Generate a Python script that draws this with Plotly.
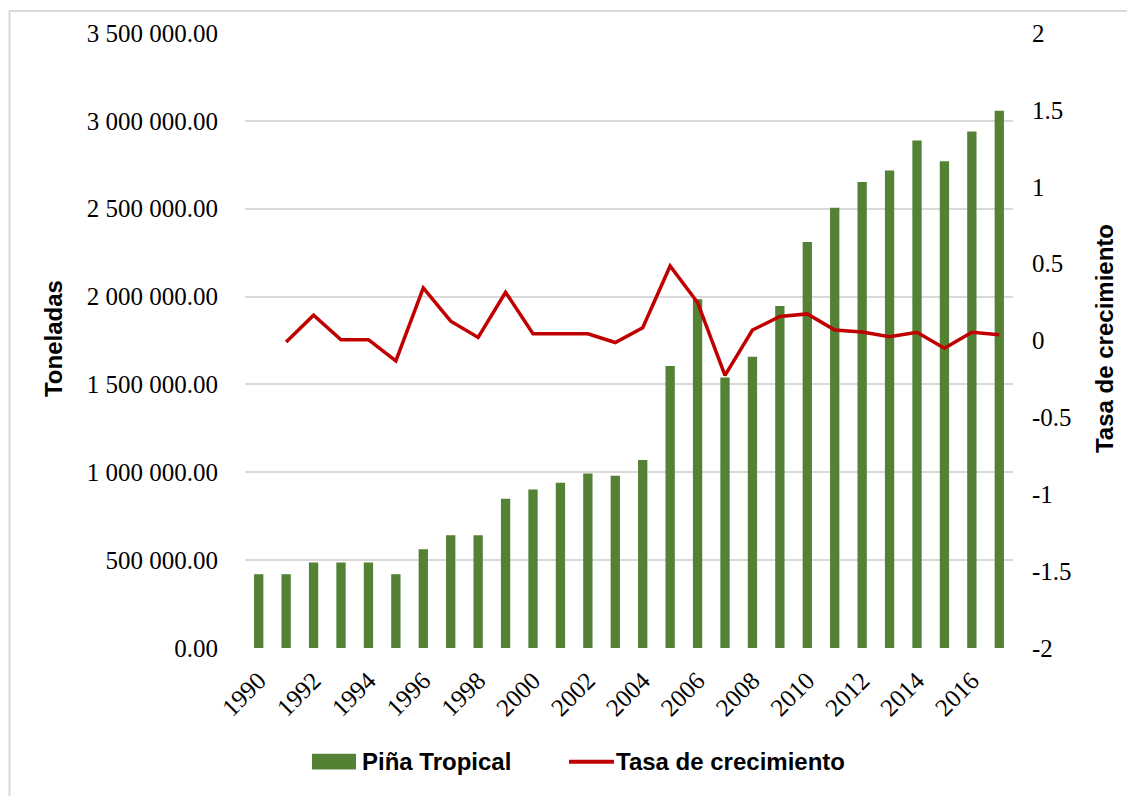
import plotly.graph_objects as go

years = list(range(1990, 2018))
toneladas = [420000, 420000, 487000, 487000, 487000, 420000, 562000, 641000, 641000,
             849000, 902000, 940000, 993000, 980000, 1070000, 1605000, 1985000, 1539000,
             1657000, 1946000, 2311000, 2506000, 2652000, 2717000, 2888000, 2770000,
             2940000, 3058000]
tasa_years = list(range(1991, 2018))
tasa = [-0.01, 0.165, 0.005, 0.005, -0.133, 0.342, 0.126, 0.02, 0.314, 0.044, 0.044,
        0.044, -0.013, 0.083, 0.485, 0.247, -0.227, 0.068, 0.156, 0.173, 0.068, 0.055,
        0.024, 0.053, -0.05, 0.053, 0.038]

left_tickvals = [0, 500000, 1000000, 1500000, 2000000, 2500000, 3000000, 3500000]
left_ticktext = ["0.00", "500 000.00", "1 000 000.00", "1 500 000.00", "2 000 000.00",
                 "2 500 000.00", "3 000 000.00", "3 500 000.00"]
right_tickvals = [-2, -1.5, -1, -0.5, 0, 0.5, 1, 1.5, 2]
right_ticktext = ["-2", "-1.5", "-1", "-0.5", "0", "0.5", "1", "1.5", "2"]

# page body has an 8px margin, so the figure is sized/offset accordingly
OFF = 8
W, H = 1135 - OFF, 796 - OFF
L, T = 245 - OFF, 31 - OFF
pw, ph = 768, 617
R, B = W - L - pw, H - T - ph


def px(x):
    return (x - OFF - L) / pw


def py(y):
    return 1 - (y - OFF - T) / ph


serif = "Liberation Serif"
sans = "Liberation Sans"
TICK = 25

fig = go.Figure()
fig.add_trace(go.Bar(x=years, y=toneladas, name="Piña Tropical",
                     marker=dict(color="#548235", line=dict(width=0)), width=0.34))
fig.add_trace(go.Scatter(x=tasa_years, y=tasa, name="Tasa de crecimiento", yaxis="y2",
                         mode="lines", line=dict(color="#C00000", width=3.5)))

fig.update_layout(
    width=W, height=H,
    margin=dict(l=L, r=R, t=T, b=B, pad=0),
    plot_bgcolor="white", paper_bgcolor="white",
    showlegend=False,
    xaxis=dict(range=[1989.5, 2017.5], tickmode="linear", tick0=1990, dtick=2,
               tickangle=-45, tickfont=dict(family=serif, size=TICK, color="black"),
               showgrid=False, showline=False, ticks="", zeroline=False,
               ticklabelstandoff=12),
    yaxis=dict(range=[0, 3500000], tickvals=left_tickvals, ticktext=left_ticktext,
               tickfont=dict(family=serif, size=TICK, color="black"),
               showgrid=True, gridcolor="#D9D9D9", gridwidth=1.5, zeroline=False,
               showline=False, ticks="", ticklabelstandoff=26),
    yaxis2=dict(range=[-2, 2], overlaying="y", side="right", tickvals=right_tickvals,
                ticktext=right_ticktext, tickfont=dict(family=serif, size=TICK, color="black"),
                showgrid=False, zeroline=False, showline=False, ticks="",
                ticklabelstandoff=18),
)

# axis titles
fig.add_annotation(xref="paper", yref="paper", x=px(53), y=py(338), text="<b>Toneladas</b>",
                   textangle=-90, showarrow=False, xanchor="center", yanchor="middle",
                   font=dict(family=sans, size=24, color="black"))
fig.add_annotation(xref="paper", yref="paper", x=px(1104), y=py(338),
                   text="<b>Tasa de crecimiento</b>", textangle=-90, showarrow=False,
                   xanchor="center", yanchor="middle",
                   font=dict(family=sans, size=24, color="black"))

# legend (drawn manually to match swatch shapes)
ly = 762
fig.add_shape(type="rect", xref="paper", yref="paper", x0=px(312), x1=px(356),
              y0=py(ly - 8), y1=py(ly + 8), fillcolor="#548235", line=dict(width=0))
fig.add_annotation(xref="paper", yref="paper", x=px(360), y=py(ly), text="<b>Piña Tropical</b>",
                   showarrow=False, xanchor="left", yanchor="middle",
                   font=dict(family=sans, size=24, color="black"))
fig.add_shape(type="line", xref="paper", yref="paper", x0=px(569), x1=px(614),
              y0=py(ly), y1=py(ly), line=dict(color="#C00000", width=4))
fig.add_annotation(xref="paper", yref="paper", x=px(614), y=py(ly),
                   text="<b>Tasa de crecimiento</b>", showarrow=False, xanchor="left",
                   yanchor="middle", font=dict(family=sans, size=24, color="black"))

# outer frame (top and left edges visible in the reference)
fig.add_shape(type="line", xref="paper", yref="paper",
              x0=px(9), x1=px(1140), y0=py(OFF + 1), y1=py(OFF + 1),
              line=dict(color="#D9D9D9", width=2), layer="above")
fig.add_shape(type="line", xref="paper", yref="paper",
              x0=px(OFF + 1.5), x1=px(OFF + 1.5), y0=py(OFF + 1), y1=py(800),
              line=dict(color="#D9D9D9", width=2), layer="above")

fig.write_html("out.html")
